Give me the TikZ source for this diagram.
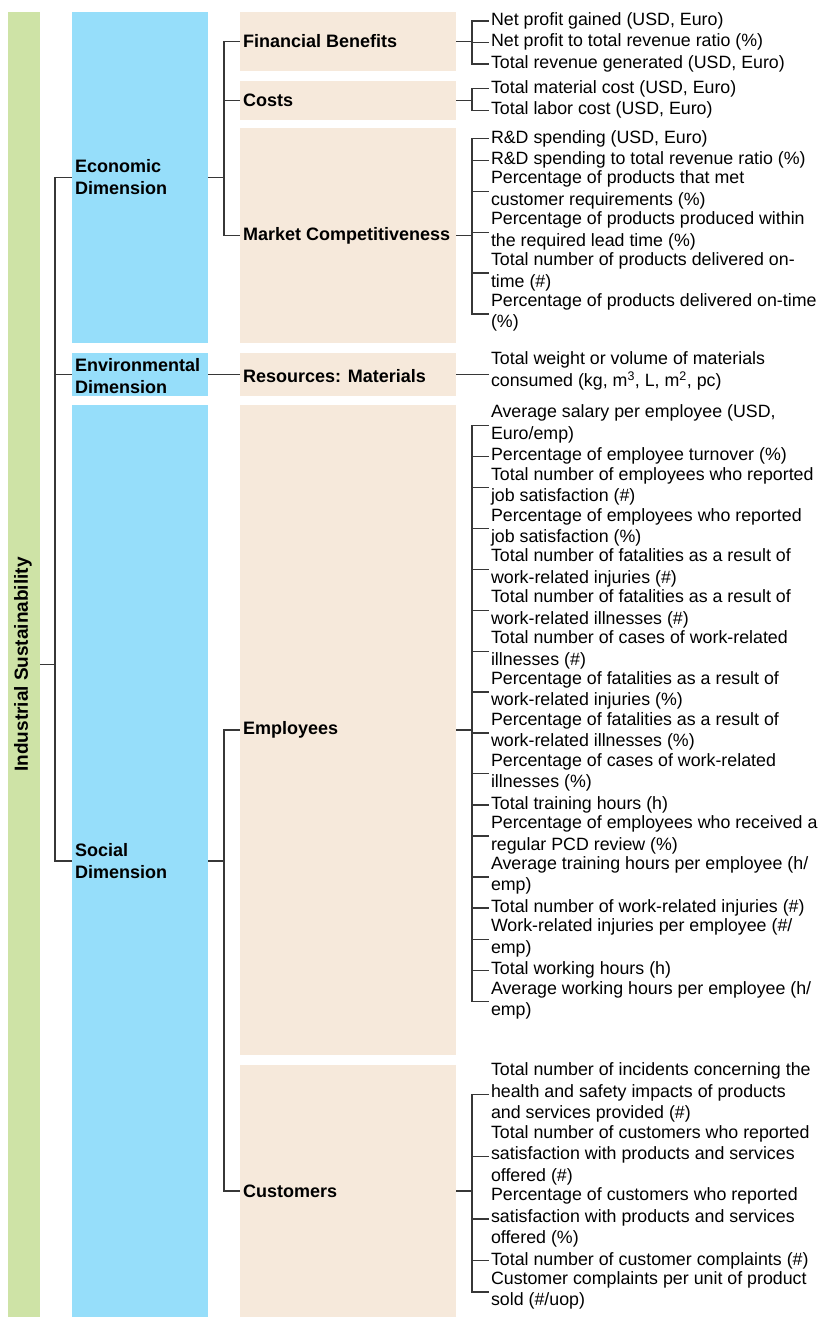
\documentclass[tikz,border=0pt]{standalone}
\usepackage{fontspec}
\setmainfont{Liberation Sans}
\definecolor{greenc}{RGB}{206,227,166}
\definecolor{bluec}{RGB}{150,222,250}
\definecolor{beigec}{RGB}{246,233,219}
\definecolor{linec}{RGB}{55,55,55}
\begin{document}
\begin{tikzpicture}[x=1pt,y=-1pt,
  conn/.style={draw=linec, line width=1.3pt},
  bar/.style={draw=none, inner sep=0pt, outer sep=0pt},
  greenbox/.style={bar, fill=greenc, minimum width=32pt},
  dimbox/.style={bar, fill=bluec, minimum width=136pt},
  subbox/.style={bar, fill=beigec, minimum width=216pt},
  lbl/.style={font=\fontsize{18}{22}\selectfont\bfseries, align=left, inner sep=0pt, anchor=west},
  item/.style={font=\fontsize{17.8}{21.5}\selectfont, align=left, inner xsep=2pt, inner ysep=0pt, outer sep=0pt, anchor=north west,
    execute at begin node=\strut, execute at end node=\strut}
]
\useasboundingbox (0,0) rectangle (819,1317);

% level 0
\node[greenbox, minimum height=1305pt] (IS) at (24,664.5) {};
\node[font=\fontsize{19}{22}\selectfont\bfseries, rotate=90, inner sep=0pt] (IStext) at ([xshift=-1pt]IS.center) {Industrial Sustainability};

% level 1
\node[dimbox, minimum height=331pt] (Eco) at (140,177.5) {};
\node[dimbox, minimum height=43pt] (Env) at (140,374.5) {};
\node[dimbox, minimum height=912pt] (Soc) at (140,861) {};
\node[lbl] (EcoT) at ([xshift=3pt]Eco.west) {Economic\\Dimension};
\node[lbl] (EnvT) at ([xshift=3pt,yshift=-2pt]Env.west) {Environmental\\Dimension};
\node[lbl] (SocT) at ([xshift=3pt]Soc.west) {Social\\Dimension};

% level 2
\node[subbox, minimum height=59pt] (Fin) at (348,41.5) {};
\node[subbox, minimum height=39pt] (Cost) at (348,100.5) {};
\node[subbox, minimum height=215pt] (Mkt) at (348,235.5) {};
\node[subbox, minimum height=43pt] (Res) at (348,374.5) {};
\node[subbox, minimum height=650pt] (Emp) at (348,730) {};
\node[subbox, minimum height=252pt] (Cust) at (348,1191) {};
\node[lbl] (FinT) at ([xshift=3pt]Fin.west) {Financial Benefits};
\node[lbl] (CostT) at ([xshift=3pt]Cost.west) {Costs};
\node[lbl] (MktT) at ([xshift=3pt]Mkt.west) {Market Competitiveness};
\node[lbl] (ResT) at ([xshift=3pt,yshift=-2pt]Res.west) {Resources: Materials};
\node[lbl] (EmpT) at ([xshift=3pt]Emp.west) {Employees};
\node[lbl] (CustT) at ([xshift=3pt]Cust.west) {Customers};

% level 3 items
\node[item] (f1) at (489,10.25) {Net profit gained (USD, Euro)};
\node[item] (f2) at (f1.south west) {Net profit to total revenue ratio (\%)};
\node[item] (f3) at (f2.south west) {Total revenue generated (USD, Euro)};

\node[item] (k1) at (489,78) {Total material cost (USD, Euro)};
\node[item] (k2) at (k1.south west) {Total labor cost (USD, Euro)};

\node[item] (m1) at (489,128) {R\&D spending (USD, Euro)};
\node[item] (m2) at (m1.south west) {R\&D spending to total revenue ratio (\%)};
\node[item] (m3) at (m2.south west) {Percentage of products that met\\customer requirements (\%)};
\node[item] (m4) at (m3.south west) {Percentage of products produced within\\the required lead time (\%)};
\node[item] (m5) at (m4.south west) {Total number of products delivered on-\\time (\#)};
\node[item] (m6) at (m5.south west) {Percentage of products delivered on-time\\(\%)};

\node[item] (r1) at (489,352) {Total weight or volume of materials\\consumed (kg, m\textsuperscript{3}, L, m\textsuperscript{2}, pc)};

\node[item] (e1) at (489,405) {Average salary per employee (USD,\\Euro/emp)};
\node[item] (e2) at (e1.south west) {Percentage of employee turnover (\%)};
\node[item] (e3) at (e2.south west) {Total number of employees who reported\\job satisfaction (\#)};
\node[item] (e4) at (e3.south west) {Percentage of employees who reported\\job satisfaction (\%)};
\node[item] (e5) at (e4.south west) {Total number of fatalities as a result of\\work-related injuries (\#)};
\node[item] (e6) at (e5.south west) {Total number of fatalities as a result of\\work-related illnesses (\#)};
\node[item] (e7) at (e6.south west) {Total number of cases of work-related\\illnesses (\#)};
\node[item] (e8) at (e7.south west) {Percentage of fatalities as a result of\\work-related injuries (\%)};
\node[item] (e9) at (e8.south west) {Percentage of fatalities as a result of\\work-related illnesses (\%)};
\node[item] (e10) at (e9.south west) {Percentage of cases of work-related\\illnesses (\%)};
\node[item] (e11) at (e10.south west) {Total training hours (h)};
\node[item] (e12) at (e11.south west) {Percentage of employees who received a\\regular PCD review (\%)};
\node[item] (e13) at (e12.south west) {Average training hours per employee (h/\\emp)};
\node[item] (e14) at (e13.south west) {Total number of work-related injuries (\#)};
\node[item] (e15) at (e14.south west) {Work-related injuries per employee (\#/\\emp)};
\node[item] (e16) at (e15.south west) {Total working hours (h)};
\node[item] (e17) at (e16.south west) {Average working hours per employee (h/\\emp)};

\node[item] (c1) at (489,1063) {Total number of incidents concerning the\\health and safety impacts of products\\and services provided (\#)};
\node[item] (c2) at (c1.south west) {Total number of customers who reported\\satisfaction with products and services\\offered (\#)};
\node[item] (c3) at (c2.south west) {Percentage of customers who reported\\satisfaction with products and services\\offered (\%)};
\node[item] (c4) at (c3.south west) {Total number of customer complaints (\#)};
\node[item] (c5) at (c4.south west) {Customer complaints per unit of product\\sold (\#/uop)};

% connectors level 0 -> 1
\foreach \t in {Eco,Env,Soc}
  \draw[conn] (IS.east) -- ++(15,0) |- (\t.west);
% level 1 -> 2
\foreach \t in {Fin,Cost,Mkt}
  \draw[conn] (Eco.east) -- ++(16,0) |- (\t.west);
\draw[conn] (Env.east) -- (Res.west);
\foreach \t in {Emp,Cust}
  \draw[conn] (Soc.east) -- ++(16,0) |- (\t.west);
% level 2 -> 3
\foreach \i in {1,2,3}
  \draw[conn] (Fin.east) -- ++(16,0) |- (f\i.west);
\foreach \i in {1,2}
  \draw[conn] (Cost.east) -- ++(16,0) |- (k\i.west);
\foreach \i in {1,...,6}
  \draw[conn] (Mkt.east) -- ++(16,0) |- (m\i.west);
\draw[conn] (Res.east) -- (Res.east -| r1.west);
\foreach \i in {1,...,17}
  \draw[conn] (Emp.east) -- ++(16,0) |- (e\i.west);
\foreach \i in {1,...,5}
  \draw[conn] (Cust.east) -- ++(16,0) |- (c\i.west);
\end{tikzpicture}
\end{document}
